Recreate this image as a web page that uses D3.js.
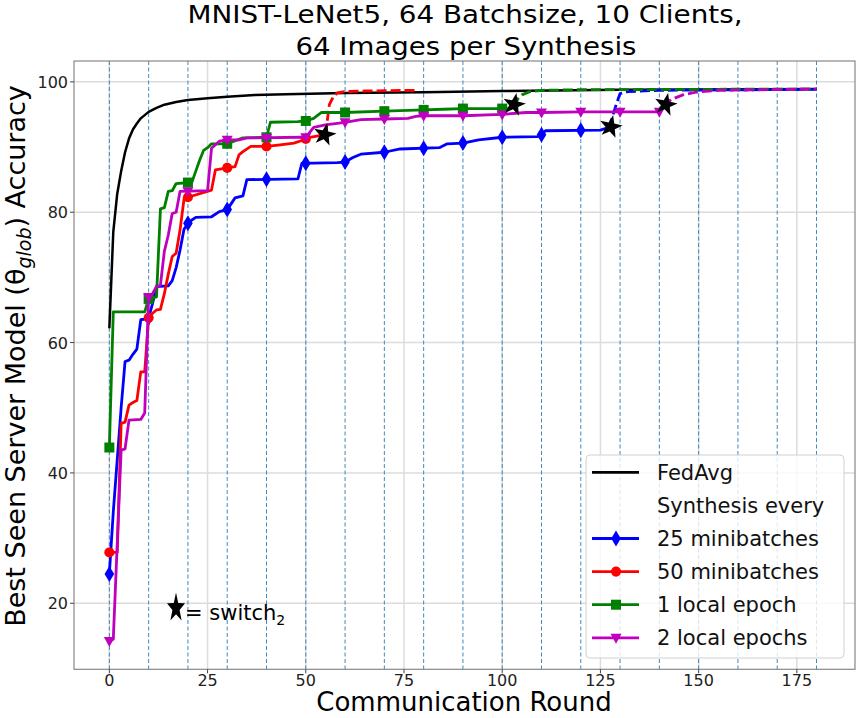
<!DOCTYPE html>
<html>
<head>
<meta charset="utf-8">
<script src="https://cdn.jsdelivr.net/npm/d3@7"></script>
<style>
  body { margin: 0; background: #fff; }
  text { font-family: "DejaVu Sans", sans-serif; }
</style>
</head>
<body>
<div id="chart"></div>
<script>
// best seen accuracy per round as [round, accuracy]
var fedavg = [[0,62.2],[1,77],[2,82.8],[3,86.3],[4,89.2],[5,91.3],[6,92.7],[7,93.6],[8,94.4],[10,95.4],[12,96],[14,96.5],[17,96.9],[20,97.2],[25,97.5],[30,97.7],[37,98.0],[45,98.1],[60,98.3],[80,98.4],[100,98.6],[130,98.8],[180,98.9]];

var mb25 = [[0,24.5],[1,34],[2,42],[3,50],[4,57.1],[5,57.3],[6,58.2],[7,59],[8,63.5],[9,63.6],[10,63.8],[11,66],[12,68.6],[15,68.7],[16,69.5],[17,71.5],[18,74.2],[19,77.4],[20,78.3],[21,78.8],[22,79.2],[26,79.3],[28,80.1],[30,80.4],[32,82.2],[34,82.5],[35,85.0],[48,85.1],[49,87.5],[58,87.6],[60,87.7],[62,88.4],[64,88.9],[70,89.2],[74,89.7],[84,89.9],[86,90.5],[90,90.6],[94,91.1],[100,91.5],[109,91.6],[110,91.9],[111,92.5],[125,92.6],[127,93.0]];
var mb25Dash = [[127,93.0],[128,94.5],[129,96.5],[130,98.2],[132,98.5],[140,98.7],[180,98.85]];

var mb50 = [[0,27.8],[2,27.8],[3,47.6],[4,47.8],[5,50.4],[6,50.8],[7,51.1],[8,55.5],[9,55.5],[10,63.8],[11,64.5],[12,65],[13,65.1],[14,67.5],[15,70.5],[16,73.2],[17,73.7],[18,77.3],[19,82],[20,82.3],[26,83.4],[27,86.5],[30,86.8],[32,87],[33,88.8],[34,89.3],[36,90.1],[40,90.1],[43,90.3],[47,90.6],[49,91.0],[51,91.5],[55,91.9]];
var mb50Dash = [[55,91.9],[56,96.5],[57,97.7],[58,98.3],[60,98.5],[65,98.6],[78,98.7]];

var ep1 = [[0,43.9],[1,64.7],[9,64.7],[10,66.7],[12,67],[13,80.5],[14,80.7],[15,83.2],[16,83.3],[17,84.4],[21,84.6],[22,86.3],[23,88],[24,89.5],[25,89.9],[26,90.5],[30,90.5],[34,91.4],[40,91.5],[41,93.8],[48,93.9],[50,94.0],[52,94.4],[54,95.3],[60,95.3],[70,95.5],[80,95.7],[85,95.8],[90,95.9],[102,95.9],[103,96.2]];
var ep1Dash = [[103,96.2],[104,97.4],[105,98.0],[107,98.5],[110,98.7],[120,98.8],[180,98.9]];

var ep2 = [[0,14.2],[1,14.5],[3,43.5],[4,43.7],[5,48.1],[8,48.2],[9,49.2],[10,67],[11,67.5],[12,68.6],[13,68.8],[14,74],[15,76.5],[16,79.8],[17,80],[18,83.2],[25,83.3],[26,89.8],[28,90.9],[30,91.1],[33,91.1],[35,91.4],[49,91.5],[50,91.5],[52,93],[55,93.4],[60,93.8],[64,94.2],[70,94.3],[76,94.4],[78,94.7],[80,94.8],[90,94.8],[100,95.0],[106,95.3],[110,95.3],[120,95.4],[140,95.4],[141,96.3]];
var ep2Dash = [[141,96.3],[143,97.3],[146,98.0],[149,98.4],[155,98.7],[180,98.9]];

// where each run switched (star markers)
var switchPts = [[54.8,91.9],[103,96.5],[127.6,93.1],[141.6,96.5]];

var markerRounds = [0,10,20,30,40,50,60,70,80,90,100,110,120,130,140];
var vlineRounds = [0,10,20,30,40,50,60,70,80,90,100,110,120,130,140,150,160,170,180];
var xTicks = [0,25,50,75,100,125,150,175];
var yTicks = [20,40,60,80,100];

var legendLabels = ["FedAvg","Synthesis every","25 minibatches","50 minibatches","1 local epoch","2 local epochs"];

var W = 862, H = 718;
var pL = 74, pR = 855, pT = 61, pB = 669.3;

var svg = d3.select("#chart").append("svg")
    .attr("width", W)
    .attr("height", H);

var x = d3.scaleLinear().domain([-9, 189.8]).range([pL, pR]);
var y = d3.scaleLinear().domain([9.87, 103.2]).range([pB, pT]);

// grid
svg.append("g").selectAll("line")
  .data(xTicks).enter().append("line")
    .attr("x1", function(d) { return x(d); })
    .attr("x2", function(d) { return x(d); })
    .attr("y1", pT).attr("y2", pB)
    .attr("stroke", "#dcdcdc").attr("stroke-width", 1.5);
svg.append("g").selectAll("line")
  .data(yTicks).enter().append("line")
    .attr("x1", pL).attr("x2", pR)
    .attr("y1", function(d) { return y(d); })
    .attr("y2", function(d) { return y(d); })
    .attr("stroke", "#dcdcdc").attr("stroke-width", 1.5);

// vertical dashed lines every 10 rounds
svg.append("g").selectAll("line")
  .data(vlineRounds).enter().append("line")
    .attr("x1", function(d) { return x(d); })
    .attr("x2", function(d) { return x(d); })
    .attr("y1", pT).attr("y2", pB)
    .attr("stroke", "#1f77b4").attr("stroke-width", 1)
    .attr("stroke-dasharray", "4,2.5")
    .attr("opacity", 0.85);

var line = d3.line()
    .x(function(d) { return x(d[0]); })
    .y(function(d) { return y(d[1]); });

function addSeries(pts, color, dash, lw) {
	svg.append("path")
	  .datum(pts)
	  .attr("d", line)
	  .attr("fill", "none")
	  .attr("stroke", color)
	  .attr("stroke-width", lw)
	  .attr("stroke-linejoin", "round")
	  .attr("stroke-dasharray", dash ? "10,4" : null);
}

// value of a series at a given round (only used where a point exists)
function valueAt(pts, r) {
	for (var i = 0; i < pts.length - 1; i++) {
		if (pts[i][0] <= r && pts[i+1][0] >= r) {
			var t = (r - pts[i][0]) / (pts[i+1][0] - pts[i][0]);
			return pts[i][1] + t*(pts[i+1][1] - pts[i][1]);
		}
	}
	return null;
}

function markerPath(kind) {
	if (kind == "diamond") return "M0,-8 L4.8,0 L0,8 L-4.8,0 Z";
	if (kind == "circle") return d3.symbol().type(d3.symbolCircle).size(80)();
	if (kind == "square") return "M-5,-5 L5,-5 L5,5 L-5,5 Z";
	return "M-5.5,-4 L5.5,-4 L0,6 Z"; // triangle down
}

function addMarkers(pts, color, kind) {
	var last = pts[pts.length-1][0];
	var rs = markerRounds.filter(function(r) { return r <= last; });
	svg.append("g").selectAll("path")
	  .data(rs).enter().append("path")
	    .attr("d", markerPath(kind))
	    .attr("transform", function(r) { return "translate(" + x(r) + "," + y(valueAt(pts, r)) + ")"; })
	    .attr("fill", color);
}

function starPath(R) {
	var p = [];
	for (var i = 0; i < 10; i++) {
		var rr = (i % 2 == 0) ? R : R*0.4;
		var a = -Math.PI/2 + i*Math.PI/5;
		p.push([rr*Math.cos(a), rr*Math.sin(a)]);
	}
	return "M" + p.map(function(q) { return q[0].toFixed(2) + "," + q[1].toFixed(2); }).join("L") + "Z";
}

addSeries(fedavg, "#000000", false, 2.5);

addSeries(mb25, "#0000ff", false, 2.8);
addSeries(mb25Dash, "#0000ff", true, 2.8);
addMarkers(mb25, "#0000ff", "diamond");

addSeries(mb50, "#ff0000", false, 2.8);
addSeries(mb50Dash, "#ff0000", true, 2.8);
addMarkers(mb50, "#ff0000", "circle");

addSeries(ep1, "#008000", false, 2.8);
addSeries(ep1Dash, "#008000", true, 2.8);
addMarkers(ep1, "#008000", "square");

addSeries(ep2, "#bf00bf", false, 2.8);
addSeries(ep2Dash, "#bf00bf", true, 2.8);
addMarkers(ep2, "#bf00bf", "triangle");

// switch stars
svg.append("g").selectAll("path")
  .data(switchPts).enter().append("path")
    .attr("d", starPath(12))
    .attr("transform", function(d) { return "translate(" + x(d[0]) + "," + y(d[1]) + ") rotate(12)"; })
    .attr("fill", "#000");

// frame
svg.append("rect")
    .attr("x", pL).attr("y", pT)
    .attr("width", pR - pL).attr("height", pB - pT)
    .attr("fill", "none").attr("stroke", "#888").attr("stroke-width", 1.2);

// ticks
svg.append("g").selectAll("line")
  .data(xTicks).enter().append("line")
    .attr("x1", function(d) { return x(d); }).attr("x2", function(d) { return x(d); })
    .attr("y1", pB).attr("y2", pB + 4)
    .attr("stroke", "#444");
svg.append("g").selectAll("text")
  .data(xTicks).enter().append("text")
    .attr("x", function(d) { return x(d); })
    .attr("y", 686)
    .attr("text-anchor", "middle")
    .attr("font-size", 16)
    .attr("fill", "#222")
    .text(function(d) { return d; });
svg.append("g").selectAll("line")
  .data(yTicks).enter().append("line")
    .attr("x1", pL - 4).attr("x2", pL)
    .attr("y1", function(d) { return y(d); }).attr("y2", function(d) { return y(d); })
    .attr("stroke", "#444");
svg.append("g").selectAll("text")
  .data(yTicks).enter().append("text")
    .attr("x", 68)
    .attr("y", function(d) { return y(d) + 6; })
    .attr("text-anchor", "end")
    .attr("font-size", 16)
    .attr("fill", "#222")
    .text(function(d) { return d; });

// axis labels
svg.append("text")
    .attr("x", 464).attr("y", 711)
    .attr("text-anchor", "middle")
    .attr("font-size", 26)
    .text("Communication Round");

var yl = svg.append("text")
    .attr("transform", "translate(25,356) rotate(-90)")
    .attr("text-anchor", "middle")
    .attr("font-size", 27);
yl.append("tspan").text("Best Seen Server Model (\u03b8");
yl.append("tspan").attr("font-style", "italic").attr("font-size", 19).attr("dy", 6).text("glob");
yl.append("tspan").attr("dy", -6).text(") Accuracy");

// title (condensed like the original)
svg.append("text")
    .attr("x", 465).attr("y", 23)
    .attr("text-anchor", "middle")
    .attr("font-size", 25)
    .attr("textLength", 555).attr("lengthAdjust", "spacingAndGlyphs")
    .text("MNIST-LeNet5, 64 Batchsize, 10 Clients,");
svg.append("text")
    .attr("x", 466).attr("y", 55)
    .attr("text-anchor", "middle")
    .attr("font-size", 25)
    .attr("textLength", 341).attr("lengthAdjust", "spacingAndGlyphs")
    .text("64 Images per Synthesis");

// switch annotation
svg.append("path")
    .attr("d", starPath(10))
    .attr("transform", "translate(176,608) scale(0.95,1.55)")
    .attr("fill", "#000");
var ann = svg.append("text")
    .attr("x", 185).attr("y", 620)
    .attr("font-family", "Lato, 'Open Sans', sans-serif")
    .attr("font-size", 21);
ann.append("tspan").text("= switch");
ann.append("tspan").attr("font-size", 14).attr("dy", 5).text("2");

// legend
var lg = svg.append("g");
lg.append("rect")
    .attr("x", 586).attr("y", 455)
    .attr("width", 258).attr("height", 203)
    .attr("rx", 4)
    .attr("fill", "#fff").attr("fill-opacity", 0.8)
    .attr("stroke", "#d0d0d0");

var legColors = ["#000000", null, "#0000ff", "#ff0000", "#008000", "#bf00bf"];
var legMarks = [null, null, "diamond", "circle", "square", "triangle"];

legendLabels.forEach(function(lab, i) {
	var by = 479.8 + i*33.1;
	var cy = by - 7.5;
	if (legColors[i]) {
		lg.append("line")
		  .attr("x1", 592).attr("x2", 639)
		  .attr("y1", cy).attr("y2", cy)
		  .attr("stroke", legColors[i]).attr("stroke-width", 2.8);
	}
	if (legMarks[i]) {
		lg.append("path")
		  .attr("d", markerPath(legMarks[i]))
		  .attr("transform", "translate(616," + cy + ")")
		  .attr("fill", legColors[i]);
	}
	lg.append("text")
	  .attr("x", 657).attr("y", by)
	  .attr("font-size", 21)
	  .attr("fill", "#111")
	  .text(lab);
});
</script>
</body>
</html>
